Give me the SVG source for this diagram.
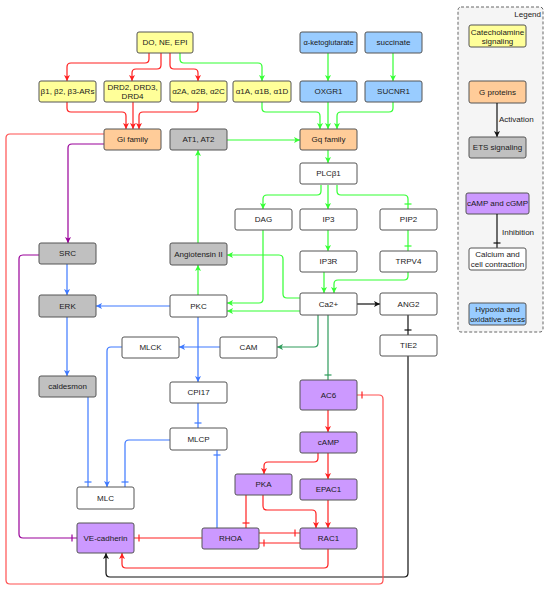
<svg xmlns="http://www.w3.org/2000/svg" width="550" height="592" viewBox="0 0 550 592">
<defs>
<style>
text{font-family:"Liberation Sans",Arial,sans-serif;font-size:8px;fill:#1a1a1a;text-anchor:middle;dominant-baseline:central}
.b{stroke:#555;stroke-width:1}
.y{fill:#ffff99}.o{fill:#ffcc99}.g{fill:#c0c0c0}.p{fill:#cc99ff}.bl{fill:#99ccff}.w{fill:#fff}
.e{fill:none;stroke-width:1.2}
.r{stroke:#ff2020}.gr{stroke:#33ff33}.bu{stroke:#3d78ff}.pu{stroke:#990099}.k{stroke:#111}.dg{stroke:#2e9b5b}
.lg{text-anchor:start}
</style>
<marker id="ar" viewBox="0 0 8 8" refX="8" refY="4" markerWidth="6" markerHeight="6" markerUnits="userSpaceOnUse" orient="auto"><path d="M0,0 L8,4 L0,8 L2,4 z" fill="#ff2020"/></marker>
<marker id="ag" viewBox="0 0 8 8" refX="8" refY="4" markerWidth="6" markerHeight="6" markerUnits="userSpaceOnUse" orient="auto"><path d="M0,0 L8,4 L0,8 L2,4 z" fill="#33ff33"/></marker>
<marker id="ab" viewBox="0 0 8 8" refX="8" refY="4" markerWidth="6" markerHeight="6" markerUnits="userSpaceOnUse" orient="auto"><path d="M0,0 L8,4 L0,8 L2,4 z" fill="#3d78ff"/></marker>
<marker id="ap" viewBox="0 0 8 8" refX="8" refY="4" markerWidth="6" markerHeight="6" markerUnits="userSpaceOnUse" orient="auto"><path d="M0,0 L8,4 L0,8 L2,4 z" fill="#990099"/></marker>
<marker id="ak" viewBox="0 0 8 8" refX="8" refY="4" markerWidth="6" markerHeight="6" markerUnits="userSpaceOnUse" orient="auto"><path d="M0,0 L8,4 L0,8 L2,4 z" fill="#111"/></marker>
<marker id="adg" viewBox="0 0 8 8" refX="8" refY="4" markerWidth="6" markerHeight="6" markerUnits="userSpaceOnUse" orient="auto"><path d="M0,0 L8,4 L0,8 L2,4 z" fill="#2e9b5b"/></marker>
<marker id="tr" viewBox="0 0 10 10" refX="10" refY="5" markerWidth="10" markerHeight="10" markerUnits="userSpaceOnUse" orient="auto"><path d="M5,1.5 L5,8.5" stroke="#ff2020" stroke-width="1.2"/></marker>
<marker id="tg" viewBox="0 0 10 10" refX="10" refY="5" markerWidth="10" markerHeight="10" markerUnits="userSpaceOnUse" orient="auto"><path d="M5,1.5 L5,8.5" stroke="#33ff33" stroke-width="1.2"/></marker>
<marker id="tb" viewBox="0 0 10 10" refX="10" refY="5" markerWidth="10" markerHeight="10" markerUnits="userSpaceOnUse" orient="auto"><path d="M5,1.5 L5,8.5" stroke="#3d78ff" stroke-width="1.2"/></marker>
<marker id="tp" viewBox="0 0 10 10" refX="10" refY="5" markerWidth="10" markerHeight="10" markerUnits="userSpaceOnUse" orient="auto"><path d="M5,1.5 L5,8.5" stroke="#990099" stroke-width="1.2"/></marker>
<marker id="tk" viewBox="0 0 10 10" refX="10" refY="5" markerWidth="10" markerHeight="10" markerUnits="userSpaceOnUse" orient="auto"><path d="M5,1.5 L5,8.5" stroke="#111" stroke-width="1.2"/></marker>
<marker id="tdg" viewBox="0 0 10 10" refX="10" refY="5" markerWidth="10" markerHeight="10" markerUnits="userSpaceOnUse" orient="auto"><path d="M5,1.5 L5,8.5" stroke="#2e9b5b" stroke-width="1.2"/></marker>
</defs>
<rect width="550" height="592" fill="#fff"/>

<g id="legend">
<rect x="458" y="7" width="85" height="325" rx="3" fill="#f5f5f5" stroke="#666" stroke-dasharray="3,2"/>
<text x="541" y="14" style="text-anchor:end">Legend</text>
<rect class="b y" x="469" y="25" width="57" height="22" rx="2"/>
<text x="497.5" y="32">Catecholamine</text><text x="497.5" y="41">signaling</text>
<rect class="b o" x="469" y="81" width="57" height="22" rx="2"/>
<text x="497.5" y="92">G proteins</text>
<path class="e k" d="M497,103 L497,137" marker-end="url(#ak)"/>
<text class="lg" x="499" y="119">Activation</text>
<rect class="b g" x="469" y="137" width="57" height="21" rx="2"/>
<text x="497.5" y="147.5">ETS signaling</text>
<rect class="b p" x="466" y="193" width="63" height="21" rx="2"/>
<text x="497.5" y="203.5">cAMP and cGMP</text>
<path class="e k" d="M497,214 L497,248" marker-end="url(#tk)"/>
<text class="lg" x="502" y="232">Inhibition</text>
<rect class="b w" x="469" y="248" width="57" height="22" rx="2"/>
<text x="497.5" y="254.5">Calcium and</text><text x="497.5" y="264">cell contraction</text>
<rect class="b bl" x="469" y="303" width="57" height="22" rx="2"/>
<text x="497.5" y="309.5">Hypoxia and</text><text x="497.5" y="319">oxidative stress</text>
</g>

<g id="connectors">
<!-- red catecholamine -->
<path class="e r" d="M149,53 L149,59 Q149,63 145,63 L71,63 Q67,63 67,67 L67,81" marker-end="url(#ar)"/>
<path class="e r" d="M161,53 L161,65 Q161,69 157,69 L136,69 Q132,69 132,73 L132,81" marker-end="url(#ar)"/>
<path class="e r" d="M170,53 L170,65 Q170,69 174,69 L194,69 Q198,69 198,73 L198,81" marker-end="url(#ar)"/>
<path class="e gr" d="M180,53 L180,59 Q180,63 184,63 L258,63 Q262,63 262,67 L262,81" marker-end="url(#ag)"/>
<path class="e r" d="M67,102 L67,108 Q67,112 71,112 L122,112 Q126,112 126,116 L126,129" marker-end="url(#ar)"/>
<path class="e r" d="M133,102 L133,129" marker-end="url(#ar)"/>
<path class="e r" d="M198,102 L198,108 Q198,112 194,112 L143,112 Q139,112 139,116 L139,129" marker-end="url(#ar)"/>
<!-- green Gq -->
<path class="e gr" d="M262,102 L262,108 Q262,112 266,112 L316,112 Q320,112 320,116 L320,129" marker-end="url(#ag)"/>
<path class="e gr" d="M328,102 L328,129" marker-end="url(#ag)"/>
<path class="e gr" d="M393,102 L393,108 Q393,112 389,112 L341,112 Q337,112 337,116 L337,129" marker-end="url(#ag)"/>
<path class="e gr" d="M328,53 L328,81" marker-end="url(#ag)"/>
<path class="e gr" d="M393,53 L393,81" marker-end="url(#ag)"/>
<path class="e gr" d="M227,140 L300,140" marker-end="url(#ag)"/>
<path class="e gr" d="M328,150 L328,163" marker-end="url(#ag)"/>
<path class="e gr" d="M321,185 L321,191 Q321,195 317,195 L267,195 Q263,195 263,199 L263,209" marker-end="url(#ag)"/>
<path class="e gr" d="M328,185 L328,209" marker-end="url(#ag)"/>
<path class="e gr" d="M337,185 L337,191 Q337,195 341,195 L404,195 Q408,195 408,199 L408,209" marker-end="url(#tg)"/>
<path class="e gr" d="M328,230 L328,251" marker-end="url(#ag)"/>
<path class="e gr" d="M408,230 L408,251" marker-end="url(#tg)"/>
<path class="e gr" d="M324,272 L324,293" marker-end="url(#ag)"/>
<path class="e gr" d="M408,272 L408,276 Q408,280 404,280 L338,280 Q334,280 334,284 L334,293" marker-end="url(#ag)"/>
<path class="e gr" d="M263,230 L263,299 Q263,303 259,303 L227,303" marker-end="url(#ag)"/>
<path class="e gr" d="M300,311 L227,311" marker-end="url(#ag)"/>
<path class="e gr" d="M300,298 L287,298 Q283,298 283,294 L283,259 Q283,255 279,255 L227,255" marker-end="url(#ag)"/>
<path class="e gr" d="M198,295 L198,265" marker-end="url(#ag)"/>
<path class="e gr" d="M198,243 L198,150" marker-end="url(#ag)"/>
<!-- black -->
<path class="e k" d="M357,304 L380,304" marker-end="url(#ak)"/>
<path class="e k" d="M408,314 L408,335" marker-end="url(#tk)"/>
<path class="e k" d="M408,356 L408,573 Q408,577 404,577 L110,577 Q106,577 106,573 L106,553" marker-end="url(#ak)"/>
<!-- dark green -->
<path class="e dg" d="M318,315 L318,343 Q318,347 314,347 L277,347" marker-end="url(#adg)"/>
<path class="e dg" d="M328,315 L328,380" marker-end="url(#tdg)"/>
<!-- blue -->
<path class="e bu" d="M220,347 L179,347" marker-end="url(#ab)"/>
<path class="e bu" d="M122,347 L111,347 Q107,347 107,351 L107,487" marker-end="url(#ab)"/>
<path class="e bu" d="M67,264 L67,295" marker-end="url(#ab)"/>
<path class="e bu" d="M67,317 L67,376" marker-end="url(#ab)"/>
<path class="e bu" d="M170,306 L96,306" marker-end="url(#ab)"/>
<path class="e bu" d="M198,317 L198,382" marker-end="url(#ab)"/>
<path class="e bu" d="M198,403 L198,428" marker-end="url(#tb)"/>
<path class="e bu" d="M88,397 L88,487" marker-end="url(#tb)"/>
<path class="e bu" d="M170,440 L129,440 Q125,440 125,444 L125,487" marker-end="url(#tb)"/>
<path class="e bu" d="M217,528 L217,450" marker-end="url(#tb)"/>
<!-- purple -->
<path class="e pu" d="M104,144 L72,144 Q68,144 68,148 L68,243" marker-end="url(#ap)"/>
<path class="e pu" d="M39,255 L23,255 Q19,255 19,259 L19,534 Q19,538 23,538 L77,538" marker-end="url(#tp)"/>
<!-- red lower -->
<path class="e" stroke="#ff5050" stroke-width="1.5" d="M104,134 L10,134 Q6,134 6,138 L6,580 Q6,584 10,584 L379,584 Q383,584 383,580 L383,399 Q383,395 379,395 L357,395" marker-end="url(#tr)"/>
<path class="e r" d="M202,538 L134,538" marker-end="url(#tr)"/>
<path class="e r" d="M259,533 L300,533" marker-end="url(#tr)"/>
<path class="e r" d="M300,543 L259,543" marker-end="url(#tr)"/>
<path class="e r" d="M246,495 L246,528" marker-end="url(#tr)"/>
<path class="e r" d="M263,495 L263,506 Q263,510 267,510 L312,510 Q316,510 316,514 L316,528" marker-end="url(#ar)"/>
<path class="e r" d="M328,500 L328,528" marker-end="url(#ar)"/>
<path class="e r" d="M318,453 L318,458 Q318,462 314,462 L268,462 Q264,462 264,466 L264,474" marker-end="url(#ar)"/>
<path class="e r" d="M328,453 L328,479" marker-end="url(#ar)"/>
<path class="e r" d="M328,410 L328,432" marker-end="url(#ar)"/>
<path class="e r" d="M328,549 L328,564 Q328,568 324,568 L126,568 Q122,568 122,564 L122,553" marker-end="url(#ar)"/>
</g>

<g id="n-do"><rect class="b y" x="137" y="32" width="56" height="21" rx="2"/><text x="165" y="42.5">DO, NE, EPI</text></g>
<g id="n-beta"><rect class="b y" x="39" y="81" width="57" height="21" rx="2"/><text x="67.5" y="91.5">β1, β2, β3-ARs</text></g>
<g id="n-drd"><rect class="b y" x="104" y="81" width="57" height="21" rx="2"/><text x="132.5" y="87.5">DRD2, DRD3,</text><text x="132.5" y="96.5">DRD4</text></g>
<g id="n-a2"><rect class="b y" x="170" y="81" width="57" height="21" rx="2"/><text x="198.5" y="91.5">α2A, α2B, α2C</text></g>
<g id="n-a1"><rect class="b y" x="233" y="81" width="58" height="21" rx="2"/><text x="262" y="91.5">α1A,  α1B, α1D</text></g>
<g id="n-akg"><rect class="b bl" x="300" y="32" width="57" height="21" rx="2"/><text x="328.5" y="42.5" style="font-size:7.5px">α-ketoglutarate</text></g>
<g id="n-succ"><rect class="b bl" x="365" y="32" width="57" height="21" rx="2"/><text x="393.5" y="42.5">succinate</text></g>
<g id="n-oxgr1"><rect class="b bl" x="300" y="81" width="57" height="21" rx="2"/><text x="328.5" y="91.5">OXGR1</text></g>
<g id="n-sucnr1"><rect class="b bl" x="365" y="81" width="57" height="21" rx="2"/><text x="393.5" y="91.5">SUCNR1</text></g>
<g id="n-gi"><rect class="b o" x="104" y="129" width="57" height="21" rx="2"/><text x="132.5" y="139.5">Gi family</text></g>
<g id="n-at"><rect class="b g" x="170" y="129" width="57" height="21" rx="2"/><text x="198.5" y="139.5">AT1, AT2</text></g>
<g id="n-gq"><rect class="b o" x="300" y="129" width="57" height="21" rx="2"/><text x="328.5" y="139.5">Gq family</text></g>
<g id="n-plc"><rect class="b w" x="300" y="163" width="57" height="21" rx="2"/><text x="328.5" y="173.5">PLCβ1</text></g>
<g id="n-dag"><rect class="b w" x="235" y="209" width="57" height="21" rx="2"/><text x="263.5" y="219.5">DAG</text></g>
<g id="n-ip3"><rect class="b w" x="300" y="209" width="57" height="21" rx="2"/><text x="328.5" y="219.5">IP3</text></g>
<g id="n-pip2"><rect class="b w" x="380" y="209" width="57" height="21" rx="2"/><text x="408.5" y="219.5">PIP2</text></g>
<g id="n-ip3r"><rect class="b w" x="300" y="251" width="57" height="21" rx="2"/><text x="328.5" y="261.5">IP3R</text></g>
<g id="n-trpv4"><rect class="b w" x="380" y="251" width="57" height="21" rx="2"/><text x="408.5" y="261.5">TRPV4</text></g>
<g id="n-ca"><rect class="b w" x="300" y="293" width="57" height="22" rx="2"/><text x="328.5" y="304">Ca2+</text></g>
<g id="n-ang2"><rect class="b w" x="380" y="293" width="57" height="22" rx="2"/><text x="408.5" y="304">ANG2</text></g>
<g id="n-tie2"><rect class="b w" x="380" y="335" width="57" height="21" rx="2"/><text x="408.5" y="345.5">TIE2</text></g>
<g id="n-src"><rect class="b g" x="39" y="243" width="57" height="21" rx="2"/><text x="67.5" y="253.5">SRC</text></g>
<g id="n-erk"><rect class="b g" x="39" y="295" width="57" height="22" rx="2"/><text x="67.5" y="306">ERK</text></g>
<g id="n-cald"><rect class="b g" x="39" y="376" width="57" height="21" rx="2"/><text x="67.5" y="386.5">caldesmon</text></g>
<g id="n-ang"><rect class="b g" x="170" y="243" width="57" height="22" rx="2"/><text x="198.5" y="254">Angiotensin II</text></g>
<g id="n-pkc"><rect class="b w" x="170" y="295" width="57" height="22" rx="2"/><text x="198.5" y="306">PKC</text></g>
<g id="n-mlck"><rect class="b w" x="122" y="337" width="57" height="21" rx="2"/><text x="150.5" y="347.5">MLCK</text></g>
<g id="n-cam"><rect class="b w" x="220" y="337" width="57" height="21" rx="2"/><text x="248.5" y="347.5">CAM</text></g>
<g id="n-cpi17"><rect class="b w" x="170" y="382" width="57" height="21" rx="2"/><text x="198.5" y="392.5">CPI17</text></g>
<g id="n-mlcp"><rect class="b w" x="170" y="428" width="57" height="22" rx="2"/><text x="198.5" y="439">MLCP</text></g>
<g id="n-mlc"><rect class="b w" x="77" y="487" width="57" height="22" rx="2"/><text x="105.5" y="498">MLC</text></g>
<g id="n-ac6"><rect class="b p" x="300" y="380" width="57" height="30" rx="2"/><text x="328.5" y="395">AC6</text></g>
<g id="n-camp"><rect class="b p" x="300" y="432" width="57" height="21" rx="2"/><text x="328.5" y="442.5">cAMP</text></g>
<g id="n-pka"><rect class="b p" x="235" y="474" width="57" height="21" rx="2"/><text x="263.5" y="484.5">PKA</text></g>
<g id="n-epac1"><rect class="b p" x="300" y="479" width="57" height="21" rx="2"/><text x="328.5" y="489.5">EPAC1</text></g>
<g id="n-ve"><rect class="b p" x="77" y="523" width="57" height="30" rx="2"/><text x="105.5" y="538">VE-cadherin</text></g>
<g id="n-rhoa"><rect class="b p" x="202" y="528" width="57" height="21" rx="2"/><text x="230.5" y="538.5">RHOA</text></g>
<g id="n-rac1"><rect class="b p" x="300" y="528" width="57" height="21" rx="2"/><text x="328.5" y="538.5">RAC1</text></g>
</svg>
